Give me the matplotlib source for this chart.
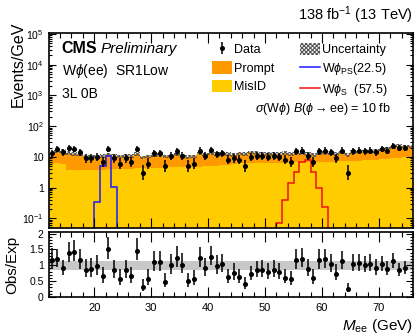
import numpy as np
import matplotlib
matplotlib.use('Agg')
import matplotlib.pyplot as plt
from matplotlib.ticker import MultipleLocator, LogLocator, FuncFormatter, NullFormatter
from matplotlib.patches import Patch
from matplotlib.lines import Line2D

plt.rcParams['font.family'] = ['Liberation Sans', 'DejaVu Sans']
plt.rcParams['mathtext.fontset'] = 'custom'
plt.rcParams['mathtext.rm'] = 'Liberation Sans'
plt.rcParams['mathtext.it'] = 'Liberation Sans:italic'
plt.rcParams['mathtext.bf'] = 'Liberation Sans:bold'
plt.rcParams['hatch.linewidth'] = 0.8

# 1 GeV bins from 12 to 76 GeV
edges = np.arange(12, 77)

data = [13, 18, 14, 19, 18, 14, 9, 9, 10, 7,
        18, 9, 6, 9, 7, 18, 3, 6, 13, 13,
        5, 11, 15, 11, 5, 6, 16, 11, 17, 12,
        13, 8, 9, 8, 5, 10, 11, 11, 10, 11,
        10, 8, 7, 15, 16, 11, 7, 15, 16, 14,
        9, 16, 3, 15, 16, 15, 16, 14, 18, 16,
        23, 19, 20, np.nan]

misid = [6.0, 6.2, 5.8, 3.7, 3.6, 3.6, 3.7, 3.7, 3.8, 3.8,
         3.9, 4.0, 4.0, 4.1, 4.1, 4.2, 4.2, 4.3, 4.3, 4.4,
         4.4, 4.5, 4.5, 4.6, 4.6, 4.7, 4.8, 4.9, 5.0, 5.2,
         5.4, 5.6, 6.0, 6.1, 6.1, 6.2, 6.2, 6.3, 6.3, 6.4,
         6.4, 6.5, 6.6, 6.6, 6.7, 6.8, 6.8, 6.9, 6.9, 7.0,
         7.0, 7.1, 7.2, 7.3, 7.5, 7.7, 7.9, 8.1, 8.4, 8.7,
         9.0, 9.4, 9.8, 10.2]

prompt = [5.0, 8.8, 9.7, 10.1, 9.0, 8.4, 6.7, 6.5, 6.5, 6.8,
          8.1, 6.7, 6.3, 6.6, 6.7, 8.1, 5.4, 6.0, 7.5, 7.5,
          5.9, 6.5, 7.6, 6.2, 5.6, 5.7, 8.2, 7.2, 8.4, 7.0,
          7.2, 7.1, 5.7, 6.9, 6.4, 7.8, 6.9, 6.5, 6.4, 6.4,
          6.3, 6.6, 5.9, 6.3, 6.5, 5.6, 4.9, 6.0, 6.6, 6.6,
          5.2, 7.0, 4.6, 7.0, 7.5, 7.3, 7.3, 7.3, 9.1, 9.3,
          11.3, 12.9, 12.2, 11.8]

unc_rel = 0.14

ps_edges = [20, 21, 22, 23, 24]
ps_vals = [0.34, 5.0, 11.0, 1.05]
s_edges = [52, 53, 54, 55, 56, 57, 58, 59, 60, 61]
s_vals = [0.072, 0.38, 1.41, 3.2, 6.8, 7.8, 3.1, 0.93, 0.23]

c_prompt = '#ff9900'
c_misid = '#ffcc00'
c_unc = '#555555'

data = np.array(data, dtype=float)
misid = np.array(misid)
total = misid + np.array(prompt)
centers = 0.5 * (edges[1:] + edges[:-1])
err_lo = np.sqrt(data + 0.25) - 0.5
err_hi = np.sqrt(data + 0.25) + 0.5
ratio = data / total

fig = plt.figure(figsize=(4.16, 3.35), dpi=100)
ax = fig.add_axes([0.117, 0.3194, 0.876, 0.5821])
rax = fig.add_axes([0.117, 0.1134, 0.876, 0.1941])

# main panel
ax.stairs(misid, edges, baseline=1e-3, fill=True, color=c_misid, lw=0)
ax.stairs(total, edges, baseline=misid, fill=True, color=c_prompt, lw=0)
ax.stairs(total * (1 + unc_rel), edges, baseline=total * (1 - unc_rel), fill=True,
          facecolor='none', edgecolor=c_unc, hatch='xxxxxxxx', lw=0)
ax.stairs(ps_vals, ps_edges, baseline=1e-3, color='#1a1aff', lw=1.1)
ax.stairs(s_vals, s_edges, baseline=1e-3, color='#ee1111', lw=1.1)
eb = ax.errorbar(centers, data, yerr=[err_lo, err_hi], fmt='o', color='k',
                 ms=2.6, elinewidth=1.1, capsize=0)

ax.set_yscale('log')
ax.set_xlim(12, 76)
ax.set_ylim(0.048, 1.08e5)

def log_fmt(v, pos):
    e = int(round(np.log10(v)))
    if e == 0:
        return '1'
    if e == 1:
        return '10'
    return r'$10^{%d}$' % e

ax.yaxis.set_major_locator(LogLocator(base=10, numticks=20))
ax.yaxis.set_minor_locator(LogLocator(base=10, subs=np.arange(2, 10), numticks=100))
ax.yaxis.set_major_formatter(FuncFormatter(log_fmt))
ax.yaxis.set_minor_formatter(NullFormatter())
ax.tick_params(labelbottom=False)

# ratio panel
rax.stairs(np.full(len(total), 1 + unc_rel), edges, baseline=np.full(len(total), 1 - unc_rel),
           fill=True, color='#c8c8c8', lw=0)
rax.errorbar(centers, ratio, yerr=[err_lo / total, err_hi / total], fmt='o', color='k',
             ms=2.6, elinewidth=1.1, capsize=0)
rax.set_xlim(12, 76)
rax.set_ylim(0, 2.05)
rax.yaxis.set_major_locator(MultipleLocator(0.5))
rax.yaxis.set_minor_locator(MultipleLocator(0.1))
rax.yaxis.set_major_formatter(FuncFormatter(lambda v, p: '%g' % v))

for a in (ax, rax):
    a.xaxis.set_major_locator(MultipleLocator(10))
    a.xaxis.set_minor_locator(MultipleLocator(2))
    a.tick_params(which='both', direction='in', top=True, right=True, labelsize=7.5, width=0.8)
    a.tick_params(axis='x', which='major', length=7, pad=4, labelsize=8)
    a.tick_params(axis='x', which='minor', length=3.5)
    a.tick_params(axis='y', which='major', length=5, pad=3.5)
    a.tick_params(axis='y', which='minor', length=2.5)
    for s in a.spines.values():
        s.set_linewidth(1.2)

ax.set_ylabel('Events/GeV', fontsize=11.5, loc='top')
ax.yaxis.set_label_coords(-0.062, 1.056)
rax.set_ylabel('Obs/Exp', fontsize=11)
rax.yaxis.set_label_coords(-0.08, 0.5)
rax.set_xlabel(r'$M_{\rm ee}$ (GeV)', fontsize=11, loc='right')
rax.xaxis.set_label_coords(1.0, -0.30)

# texts
ax.text(0.036, 0.896, 'CMS', fontsize=11.5, fontweight='bold', transform=ax.transAxes, va='baseline')
ax.text(0.143, 0.896, 'Preliminary', fontsize=11, style='italic', transform=ax.transAxes, va='baseline')
ax.text(0.036, 0.785, r'W$\phi$(ee)  SR1Low', fontsize=10, transform=ax.transAxes, va='baseline')
ax.text(0.036, 0.668, '3L 0B', fontsize=10, transform=ax.transAxes, va='baseline')
ax.text(0.753, 0.595, r'$\sigma$(W$\phi$) $B$($\phi\rightarrow$ee) = 10 fb', fontsize=9,
        transform=ax.transAxes, ha='center', va='baseline')
ax.text(1.0, 1.067, r'138 fb$^{-1}$ (13 TeV)', fontsize=10.5, transform=ax.transAxes,
        ha='right', va='baseline')

handles = [eb, Patch(facecolor=c_prompt, lw=0), Patch(facecolor=c_misid, lw=0),
           Patch(facecolor='none', edgecolor=c_unc, hatch='xxxxxxxx', lw=0),
           Line2D([], [], color='#1a1aff', lw=1.1), Line2D([], [], color='#ee1111', lw=1.1)]
labels = ['Data', 'Prompt', 'MisID', 'Uncertainty',
          r'W$\phi_{\rm PS}$(22.5)', r'W$\phi_{\rm S}$  (57.5)']
ax.legend(handles, labels, ncol=2, loc='upper left', bbox_to_anchor=(0.448, 0.95),
          frameon=False, fontsize=9, handlelength=1.6, handleheight=1.15,
          handletextpad=0.2, columnspacing=2.0, labelspacing=0.4,
          borderpad=0, borderaxespad=0)

fig.savefig('out.png', dpi=100)
